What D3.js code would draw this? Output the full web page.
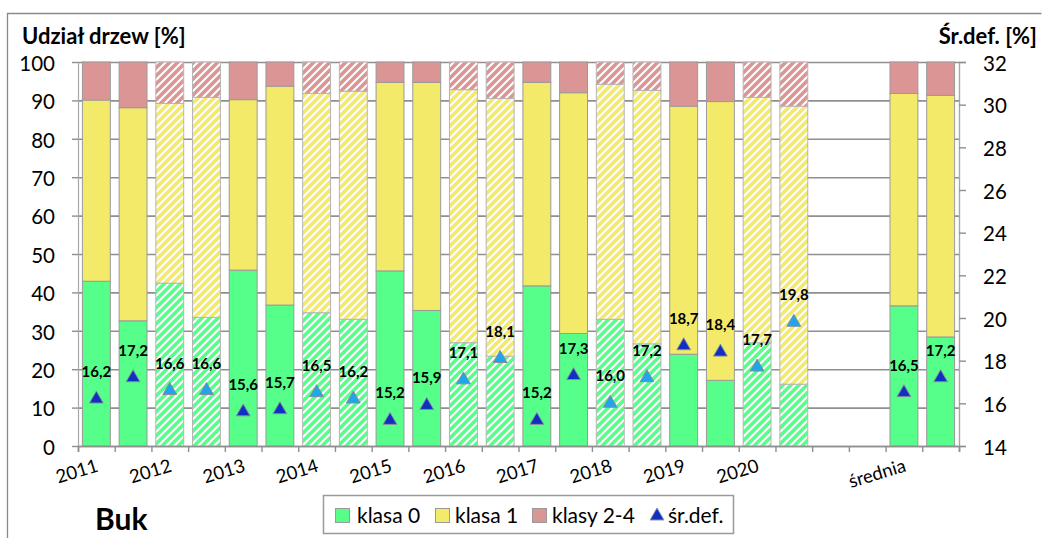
<!DOCTYPE html>
<html><head><meta charset="utf-8">
<script src="https://cdn.jsdelivr.net/npm/d3@7"></script>
<style>
html,body{margin:0;padding:0;background:#fff;}
svg{display:block;font-family:Lato,"Open Sans",sans-serif;}
</style></head>
<body><svg id="c" width="1043" height="538"></svg>
<script>
// ---- data ----
const categories = ["2011a","2011b","2012a","2012b","2013a","2013b","2014a","2014b","2015a","2015b",
  "2016a","2016b","2017a","2017b","2018a","2018b","2019a","2019b","2020a","2020b","gap1","gap2","sredniaA","sredniaB"];
const tickLabels = ["2011","","2012","","2013","","2014","","2015","","2016","","2017","","2018","","2019","","2020","","","","średnia",""];
const klasa0 = [42.9,32.6,42.4,33.5,45.8,36.7,34.7,33.0,45.6,35.3,26.9,23.4,41.7,29.3,33.0,26.6,23.9,17.1,26.9,16.1,null,null,36.5,28.4];
const klasa1 = [47.2,55.5,46.8,57.3,44.4,57.0,57.1,59.4,49.1,59.4,65.9,67.1,53.0,62.7,61.2,66.0,64.6,72.6,63.9,72.4,null,null,55.3,62.9];
const klasy24 = [9.9,11.9,10.8,9.2,9.8,6.3,8.2,7.6,5.3,5.3,7.2,9.5,5.3,8.0,5.8,7.4,11.5,10.3,9.2,11.5,null,null,8.2,8.7];
const srDef = [16.2,17.2,16.6,16.6,15.6,15.7,16.5,16.2,15.2,15.9,17.1,18.1,15.2,17.3,16.0,17.2,18.7,18.4,17.7,19.8,null,null,16.5,17.2];
const leftTicks = [0,10,20,30,40,50,60,70,80,90,100];
const rightTicks = [14,16,18,20,22,24,26,28,30,32];
const seriesNames = ["klasa 0","klasa 1","klasy 2-4","śr.def."];

// ---- layout ----
const L = 78, R = 959, T = 62, B = 446;
const svg = d3.select("#c");
const colors = {k0:"#55FF8A", k1:"#F2EA68", k24:"#DC9595"};
const triDark = "#1030C4", triLight = "#1EA6EC";
const gridCol = "#8f8f8f";

const defs = svg.append("defs");
Object.entries(colors).forEach(([k,c])=>{
  const p = defs.append("pattern").attr("id","h-"+k).attr("patternUnits","userSpaceOnUse")
    .attr("width",8).attr("height",8);
  p.append("rect").attr("width",8).attr("height",8).attr("fill","#fff");
  p.append("path").attr("d","M-2,2 L2,-2 M0,8 L8,0 M6,10 L10,6")
    .attr("stroke",c).attr("stroke-width",3.6);
});

const x = d3.scaleBand().domain(categories).range([L,R]).paddingInner(0.24).paddingOuter(0.12);
const xs = d3.scaleLinear().domain([0,categories.length]).range([L,R]);
const y = d3.scaleLinear().domain([0,100]).range([B,T]);
const yR = d3.scaleLinear().domain([14,32]).range([B,T]);

// outer frame
svg.append("path").attr("d","M7.5,540 L7.5,13.5 L1041.5,13.5")
  .attr("fill","none").attr("stroke","#8a8a8a").attr("stroke-width",1.3);

// gridlines
svg.append("g").attr("transform",`translate(${L},0)`)
  .call(d3.axisLeft(y).tickValues(leftTicks).tickSize(-(R-L)).tickFormat(""))
  .call(g=>g.select(".domain").remove())
  .call(g=>g.selectAll("line").attr("stroke",gridCol).attr("stroke-width",1.6));

// bars
const rows = categories.map((c,i)=>({cat:c,i,k0:klasa0[i]||0,k1:klasa1[i]||0,k24:klasy24[i]||0}));
const stack = d3.stack().keys(["k0","k1","k24"])(rows);
const isHatched = i => i<20 && Math.floor(i/2)%2===1;
stack.forEach(s=>{
  svg.append("g").selectAll("rect").data(s.filter(d=>d[1]>d[0])).join("rect")
    .attr("x",d=>x(d.data.cat)).attr("width",x.bandwidth())
    .attr("y",d=>y(d[1])).attr("height",d=>y(d[0])-y(d[1]))
    .attr("fill",d=>isHatched(d.data.i)?`url(#h-${s.key})`:colors[s.key])
    .attr("stroke",d=>isHatched(d.data.i)?"#b5b5b5":"#9a9a9a").attr("stroke-width",1);
});

// left axis
svg.append("g").attr("transform",`translate(${L},0)`)
  .call(d3.axisLeft(y).tickValues(leftTicks).tickSize(6).tickPadding(17))
  .call(g=>g.select(".domain").attr("stroke","#a8a8a8").attr("stroke-width",1.2))
  .call(g=>g.selectAll("line").attr("stroke",gridCol).attr("stroke-width",1.4))
  .call(g=>g.selectAll("text").attr("font-size",20.5).attr("dy","0.4em").attr("fill","#000").attr("font-family","Lato"));

// right axis
svg.append("g").attr("transform",`translate(${R},0)`)
  .call(d3.axisRight(yR).tickValues(rightTicks).tickSize(7).tickPadding(17))
  .call(g=>g.select(".domain").attr("stroke","#a8a8a8").attr("stroke-width",1.4))
  .call(g=>g.selectAll("line").attr("stroke",gridCol).attr("stroke-width",1.4))
  .call(g=>g.selectAll("text").attr("font-size",20.5).attr("dy","0.4em").attr("fill","#000").attr("font-family","Lato"));

// bottom axis
svg.append("g").attr("transform",`translate(0,${B})`)
  .call(d3.axisBottom(xs).tickValues(d3.range(categories.length+1)).tickSize(6).tickFormat(""))
  .call(g=>g.select(".domain").attr("stroke",gridCol).attr("stroke-width",1.6))
  .call(g=>g.selectAll("line").attr("stroke",gridCol).attr("stroke-width",1.4));

// x labels
svg.append("g").selectAll("text").data(categories.map((c,i)=>({c,t:tickLabels[i]})).filter(d=>d.t))
  .join("text")
  .attr("transform",d=>`translate(${x(d.c)+x.bandwidth()/2+3},${B+25}) rotate(-17)`)
  .attr("text-anchor","end").attr("font-size",18.5).attr("fill","#000").text(d=>d.t);

// markers
const pts = categories.map((c,i)=>({c,i,v:srDef[i]})).filter(d=>d.v!=null);
const tri = d3.symbol().type(d3.symbolTriangle).size(82);
svg.append("g").selectAll("path").data(pts).join("path")
  .attr("d",tri)
  .attr("transform",d=>`translate(${x(d.c)+x.bandwidth()/2},${yR(d.v)})`)
  .attr("fill",d=>isHatched(d.i)?triLight:triDark)
  .attr("stroke","#8a8a9a").attr("stroke-width",1);
svg.append("g").selectAll("text").data(pts).join("text")
  .attr("x",d=>x(d.c)+x.bandwidth()/2).attr("y",d=>yR(d.v)-22)
  .attr("text-anchor","middle").attr("font-size",15).attr("font-weight","bold")
  .attr("fill","#000").text(d=>d3.format(".1f")(d.v).replace(".",","));

// axis titles
svg.append("text").attr("x",22).attr("y",44).attr("font-size",22).attr("font-weight","bold").text("Udział drzew [%]");
svg.append("text").attr("x",1037).attr("y",44).attr("text-anchor","end").attr("font-size",22).attr("font-weight","bold").text("Śr.def. [%]");

// species label
svg.append("text").attr("x",95).attr("y",530).attr("font-size",30).attr("font-weight","bold").text("Buk");

// legend
const lg = svg.append("g");
lg.append("rect").attr("x",323.5).attr("y",495.5).attr("width",410).attr("height",38)
  .attr("fill","#fff").attr("stroke","#9a9a9a").attr("stroke-width",1.5);
const legendItems = [
  {name:seriesNames[0], sx:335, tx:357, type:"rect", col:colors.k0},
  {name:seriesNames[1], sx:435, tx:455, type:"rect", col:colors.k1},
  {name:seriesNames[2], sx:532, tx:552, type:"rect", col:colors.k24},
  {name:seriesNames[3], sx:650, tx:668, type:"tri", col:triDark}
];
legendItems.forEach(it=>{
  if(it.type==="rect"){
    lg.append("rect").attr("x",it.sx+0.5).attr("y",508.5).attr("width",14).attr("height",14)
      .attr("fill",it.col).attr("stroke","#9a9a9a").attr("stroke-width",1);
  } else {
    lg.append("path").attr("d",tri).attr("transform",`translate(${it.sx+7},${516})`)
      .attr("fill",it.col).attr("stroke","#8a8a9a");
  }
  lg.append("text").attr("x",it.tx).attr("y",523).attr("font-size",21).attr("fill","#000").text(it.name);
});
</script></body></html>
